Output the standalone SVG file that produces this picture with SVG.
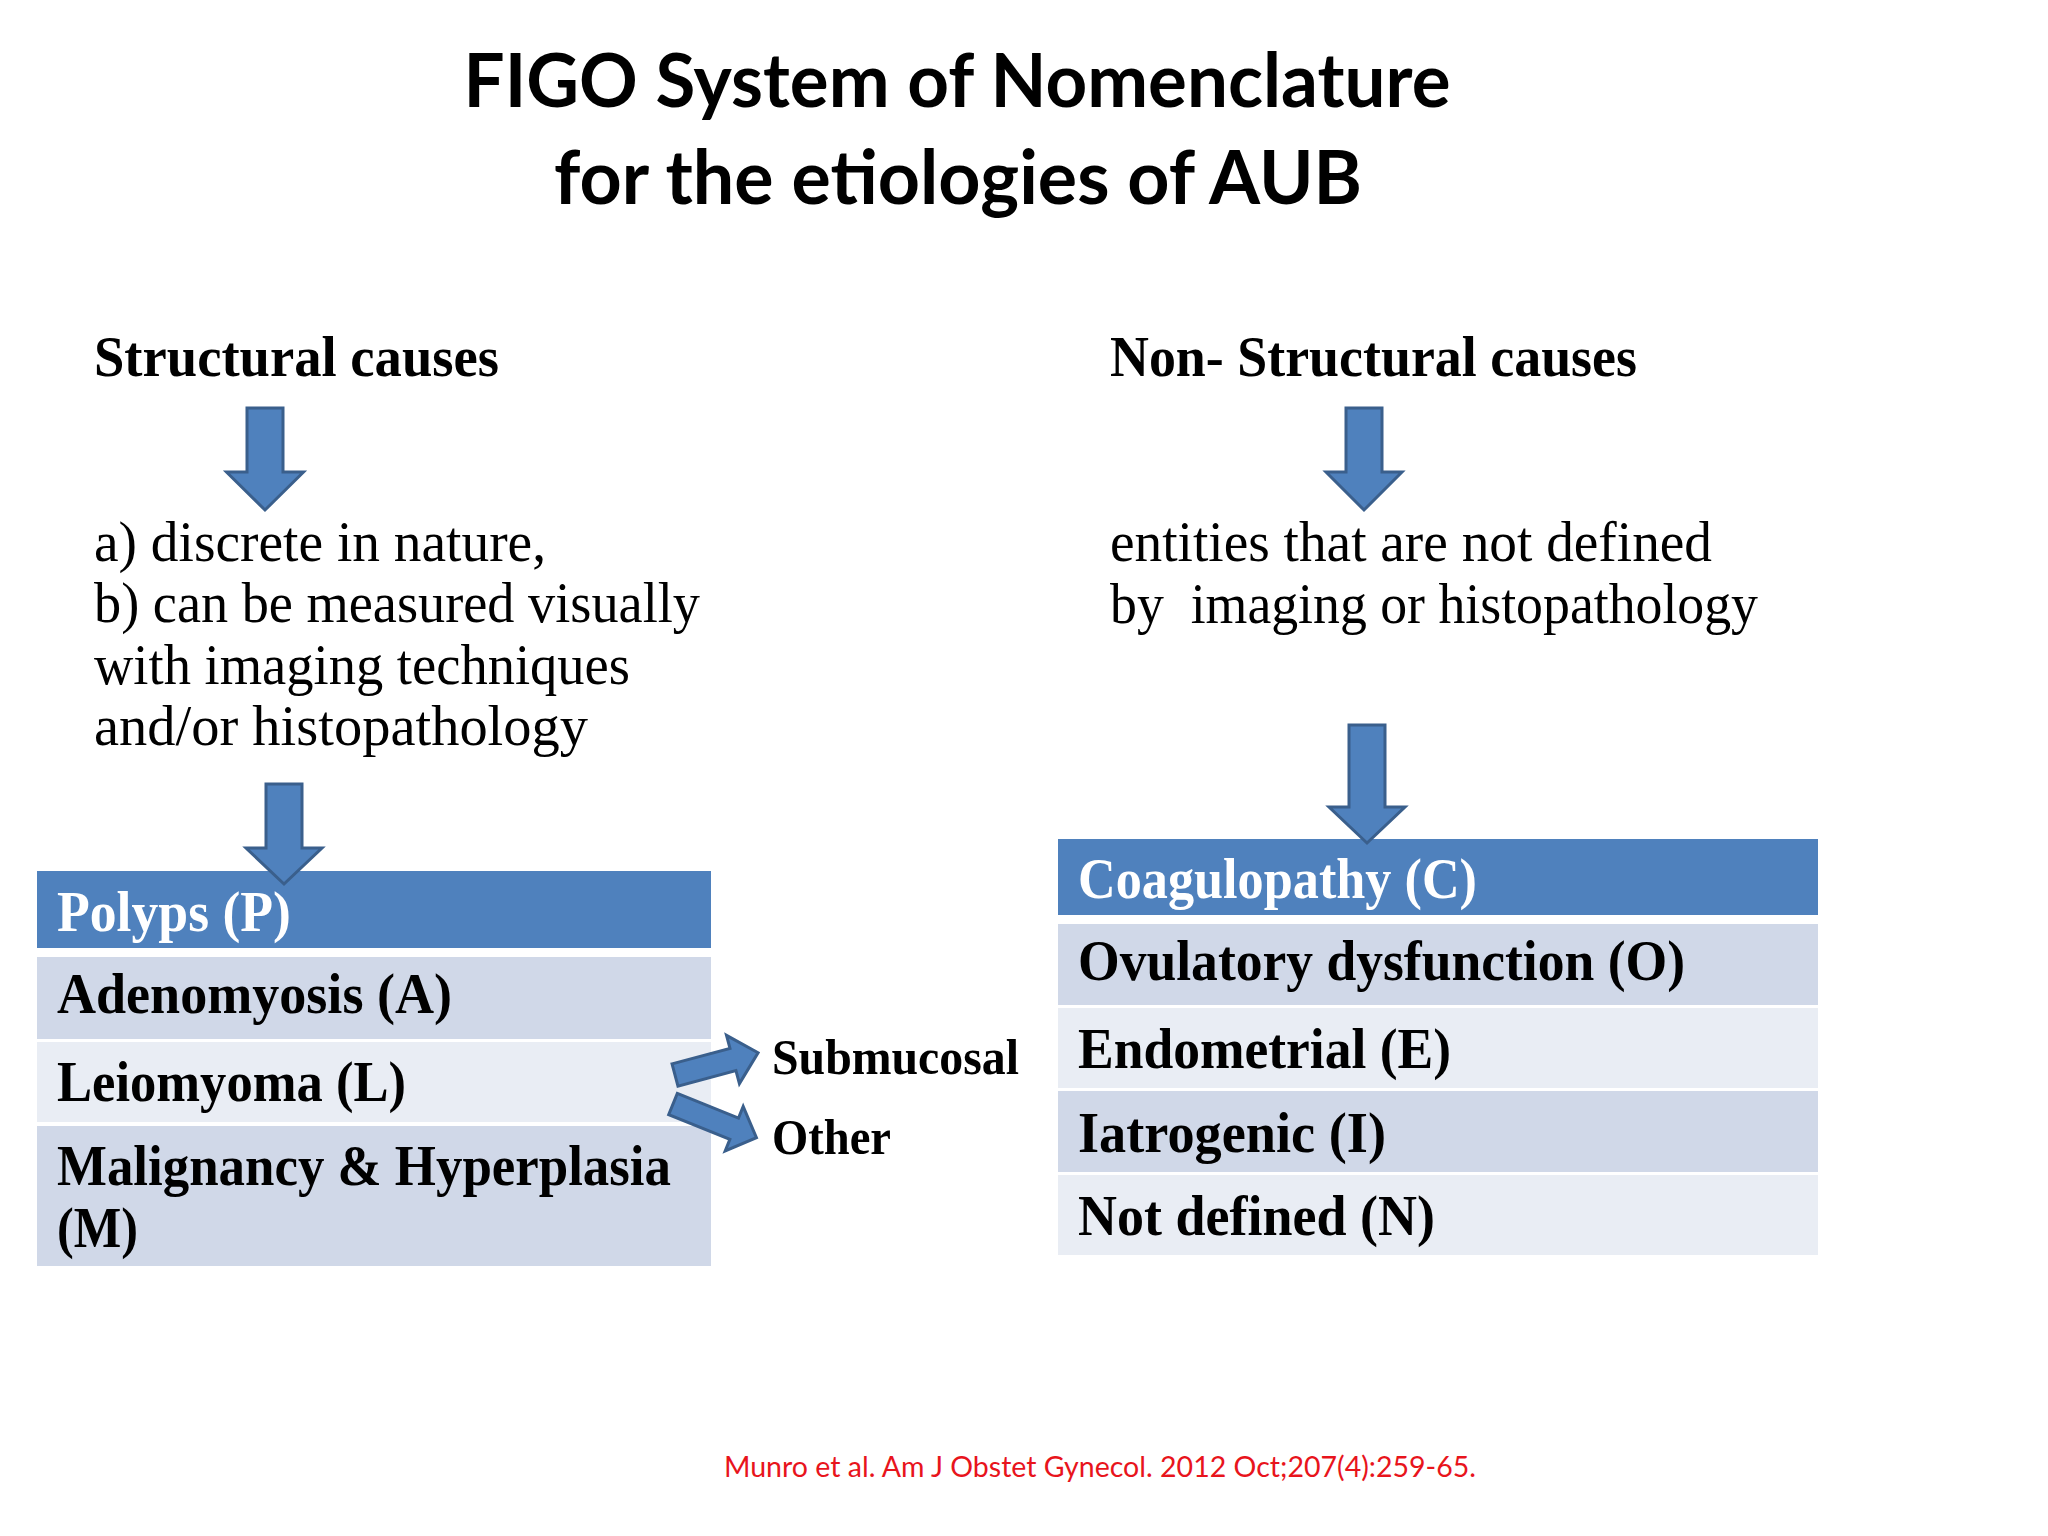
<svg xmlns="http://www.w3.org/2000/svg" width="2048" height="1536" viewBox="0 0 2048 1536">
<defs>
<style>
.title{font-family:Lato,"Liberation Sans",sans-serif;font-weight:700;font-size:74px;fill:#000}
.cite{font-family:Lato,"Liberation Sans",sans-serif;font-size:28px;fill:#E8141C}
.body{font-family:"Liberation Serif","DejaVu Serif",serif;font-size:57px;fill:#000}
.bold{font-weight:700}
.cell{font-family:"Liberation Serif","DejaVu Serif",serif;font-size:58px;font-weight:700;fill:#000}
.head{fill:#fff}
.side{font-family:"Liberation Serif","DejaVu Serif",serif;font-size:50px;font-weight:700;fill:#000}
.hdr{fill:#4F81BD}
.r1{fill:#D0D8E8}
.r2{fill:#E9EDF4}
.arrow{fill:#4F81BD;stroke:#3A5F8C;stroke-width:3;stroke-linejoin:miter}
</style>
</defs>
<rect x="0" y="0" width="2048" height="1536" fill="#fff"/>

<g id="title">
<text class="title" x="957" y="107" text-anchor="middle" textLength="987" lengthAdjust="spacingAndGlyphs">FIGO System of Nomenclature</text>
<text class="title" x="958" y="204" text-anchor="middle" textLength="808" lengthAdjust="spacingAndGlyphs">for the etiologies of AUB</text>
</g>

<g id="structural-heading">
<text class="body bold" x="94" y="376" textLength="405" lengthAdjust="spacingAndGlyphs">Structural causes</text>
</g>
<g id="nonstructural-heading">
<text class="body bold" x="1110" y="376" textLength="527" lengthAdjust="spacingAndGlyphs">Non- Structural causes</text>
</g>

<g id="structural-desc">
<text class="body" x="94" y="561" textLength="452" lengthAdjust="spacingAndGlyphs">a) discrete in nature,</text>
<text class="body" x="94" y="622" textLength="606" lengthAdjust="spacingAndGlyphs">b) can be measured visually</text>
<text class="body" x="94" y="684" textLength="536" lengthAdjust="spacingAndGlyphs">with imaging techniques</text>
<text class="body" x="94" y="745" textLength="494" lengthAdjust="spacingAndGlyphs">and/or histopathology</text>
</g>
<g id="nonstructural-desc">
<text class="body" x="1110" y="561" textLength="602" lengthAdjust="spacingAndGlyphs">entities that are not defined</text>
<text class="body" x="1110" y="623" textLength="648" lengthAdjust="spacingAndGlyphs" xml:space="preserve">by  imaging or histopathology</text>
</g>

<g id="structural-table">
<g id="polyps"><rect class="hdr" x="37" y="871" width="674" height="77"/><text class="cell head" x="57" y="931" textLength="234" lengthAdjust="spacingAndGlyphs">Polyps (P)</text></g>
<g id="adenomyosis"><rect class="r1" x="37" y="957" width="674" height="82"/><text class="cell" x="57" y="1013" textLength="395" lengthAdjust="spacingAndGlyphs">Adenomyosis (A)</text></g>
<g id="leiomyoma"><rect class="r2" x="37" y="1042" width="674" height="80"/><text class="cell" x="57" y="1101" textLength="349" lengthAdjust="spacingAndGlyphs">Leiomyoma (L)</text></g>
<g id="malignancy"><rect class="r1" x="37" y="1126" width="674" height="140"/><text class="cell" x="57" y="1185" textLength="614" lengthAdjust="spacingAndGlyphs">Malignancy &amp; Hyperplasia</text><text class="cell" x="57" y="1247" textLength="81" lengthAdjust="spacingAndGlyphs">(M)</text></g>
</g>

<g id="submucosal"><text class="side" x="772" y="1074" textLength="247" lengthAdjust="spacingAndGlyphs">Submucosal</text></g>
<g id="other"><text class="side" x="772" y="1154" textLength="119" lengthAdjust="spacingAndGlyphs">Other</text></g>

<g id="nonstructural-table">
<g id="coagulopathy"><rect class="hdr" x="1058" y="839" width="760" height="76"/><text class="cell head" x="1078" y="898" textLength="399" lengthAdjust="spacingAndGlyphs">Coagulopathy (C)</text></g>
<g id="ovulatory"><rect class="r1" x="1058" y="924" width="760" height="81"/><text class="cell" x="1078" y="980" textLength="607" lengthAdjust="spacingAndGlyphs">Ovulatory dysfunction (O)</text></g>
<g id="endometrial"><rect class="r2" x="1058" y="1008" width="760" height="80"/><text class="cell" x="1078" y="1068" textLength="373" lengthAdjust="spacingAndGlyphs">Endometrial (E)</text></g>
<g id="iatrogenic"><rect class="r1" x="1058" y="1091" width="760" height="81"/><text class="cell" x="1078" y="1152" textLength="308" lengthAdjust="spacingAndGlyphs">Iatrogenic (I)</text></g>
<g id="notdefined"><rect class="r2" x="1058" y="1175" width="760" height="80"/><text class="cell" x="1078" y="1235" textLength="357" lengthAdjust="spacingAndGlyphs">Not defined (N)</text></g>
</g>

<g id="connectors">
<polygon class="arrow" points="247,408 283,408 283,472 303.5,472 265,510 226.5,472 247,472"/>
<polygon class="arrow" points="266,784 302,784 302,848 322,848 284,884 246,848 266,848"/>
<polygon class="arrow" points="1346,408 1382,408 1382,472 1402,472 1364,510 1326,472 1346,472"/>
<polygon class="arrow" points="1349,725 1385,725 1385,807 1405,807 1367,843 1329,807 1349,807"/>
<polygon class="arrow" transform="translate(675,1075) rotate(-15)" points="0,-11.5 60,-11.5 60,-25 86,0 60,25 60,11.5 0,11.5"/>
<polygon class="arrow" transform="translate(673,1104) rotate(22)" points="0,-11.5 66,-11.5 66,-24 90,0 66,24 66,11.5 0,11.5"/>
</g>

<g id="citation">
<text class="cite" x="724" y="1477" textLength="752" lengthAdjust="spacingAndGlyphs">Munro et al. Am J Obstet Gynecol. 2012 Oct;207(4):259-65.</text>
</g>
</svg>
